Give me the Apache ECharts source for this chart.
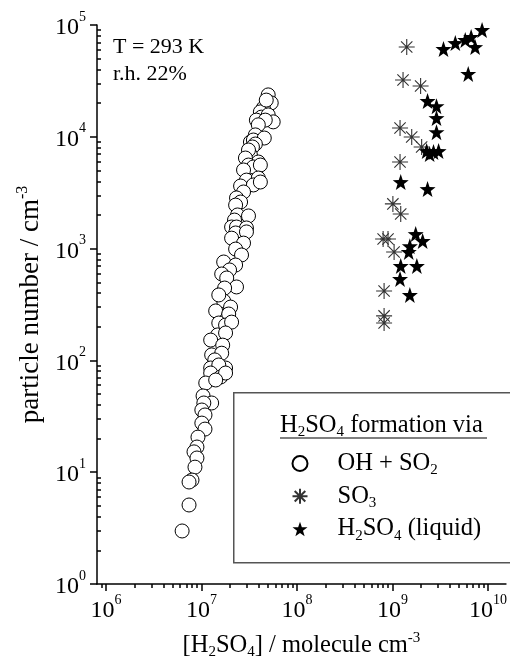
<!DOCTYPE html>
<html>
<head>
<meta charset="utf-8">
<script src="https://cdn.jsdelivr.net/npm/echarts@6/dist/echarts.min.js"></script>
<style>html,body{margin:0;padding:0;background:#fff}#c{width:510px;height:666px}</style>
</head>
<body>
<div id="c"></div>
<script>
// ---- data ----
const ohX = [5.00e7,5.38e7,4.45e7,4.14e7,4.24e7,5.00e7,5.64e7,3.76e7,4.66e7,4.77e7,3.94e7,3.67e7,3.26e7,3.50e7,4.55e7,3.67e7,3.42e7,3.26e7,3.11e7,2.89e7,3.94e7,3.11e7,3.50e7,4.14e7,2.76e7,2.96e7,3.94e7,2.57e7,3.50e7,2.76e7,4.14e7,2.33e7,2.57e7,2.28e7,2.39e7,3.11e7,2.22e7,2.07e7,2.33e7,2.96e7,2.28e7,2.96e7,2.07e7,2.76e7,2.28e7,2.63e7,1.71e7,2.28e7,1.97e7,1.63e7,1.84e7,2.33e7,1.75e7,1.71e7,1.52e7,1.41e7,2.02e7,1.93e7,1.52e7,1.79e7,2.07e7,1.48e7,1.25e7,1.79e7,1.67e7,1.28e7,1.63e7,1.38e7,1.25e7,1.79e7,1.52e7,1.25e7,1.59e7,1.79e7,1.11e7,1.41e7,1.04e7,1.28e7,1.06e7,1.01e7,1.09e7,1.01e7,1.09e7,9.20e6,8.98e6,8.36e6,8.98e6,8.56e6,7.97e6,7.42e6,7.42e6,6.28e6];
const ohY = [2.37e4,2.01e4,1.81e4,1.67e4,1.50e4,1.57e4,1.36e4,1.41e4,1.41e4,2.13e4,1.28e4,1.04e4,8.98e3,9.36e3,9.75e3,8.62e3,8.11e3,6.88e3,7.62e3,6.46e3,5.95e3,5.59e3,5.37e3,5.59e3,5.05e3,4.10e3,4.28e3,3.63e3,3.71e3,3.21e3,3.94e3,2.84e3,2.61e3,2.45e3,2.00e3,1.96e3,1.80e3,1.56e3,1.56e3,1.53e3,1.38e3,1.41e3,1.24e3,1.12e3,991,877,759,713,644,593,546,454,444,340,385,277,300,260,216,207,220,169,152,176,137,112,116,101,85.5,85.5,91,77.1,71.1,77.1,62.8,66.8,48.1,41.6,41.6,36,32.5,27.5,24.3,20.6,16.8,15.2,13.4,11.1,8.51,8.17,5.09,2.98];

const so3X = [1.41e9,1.29e9,1.97e9,1.20e9,1.59e9,2.02e9,1.20e9,1.01e9,1.22e9,7.98e8,8.98e8,1.04e9,8.17e8,8.17e8,8.17e8];
const so3Y = [6.35e4,3.22e4,2.85e4,1.20e4,9.96e3,8.11e3,5.95e3,2.51e3,2.04e3,1.22e3,1.22e3,933,418,250,216];

const liqX = [8.67e9,6.66e9,5.78e9,4.55e9,3.42e9,7.33e9,6.21e9,2.33e9,2.89e9,2.89e9,2.89e9,2.28e9,2.69e9,3.04e9,2.45e9,1.22e9,2.33e9,1.75e9,2.07e9,1.52e9,1.48e9,1.22e9,1.80e9,1.20e9,1.52e9];
const liqY = [9.02e4,7.81e4,7.35e4,6.90e4,6.10e4,6.35e4,3.65e4,2.09e4,1.88e4,1.47e4,1.10e4,7.46e3,7.31e3,7.46e3,7.01e3,3.94e3,3.41e3,1.35e3,1.17e3,1.05e3,933,699,699,535,385];

const xMajorTicks = [1e6, 1e7, 1e8, 1e9, 1e10];
const yMajorTicks = [1, 10, 100, 1e3, 1e4, 1e5];
const minorMultipliers = [2,3,4,5,6,7,8,9];
const seriesNames = ['OH + SO2', 'SO3', 'H2SO4 (liquid)'];

// ---- helpers ----
const FONT = 'Liberation Serif';
const X_MIN = 8.07e5, X_MAX = 1.54e10, Y_MIN = 1, Y_MAX = 1e5;
function minors(decades, lo, hi) {
  const out = [];
  decades.forEach(d => minorMultipliers.forEach(m => { const v = m * d; if (v > lo && v < hi) out.push(v); }));
  return out;
}
const xMinor = minors([1e5, 1e6, 1e7, 1e8, 1e9, 1e10], X_MIN, X_MAX);
const yMinor = minors([1, 10, 100, 1e3, 1e4], Y_MIN, Y_MAX);
const pairs = (xs, ys) => xs.map((x, i) => [x, ys[i]]);
const powLabel = v => '{b|10}{e|' + Math.round(Math.log10(v)) + '}';
const labelRich = {
  b: { fontFamily: FONT, fontSize: 24, color: '#000', lineHeight: 30, verticalAlign: 'bottom' },
  e: { fontFamily: FONT, fontSize: 14, color: '#000', lineHeight: 14, verticalAlign: 'top' }
};
function makeRich(size, sub) {
  return {
    n: { fontFamily: FONT, fontSize: size, color: '#000', lineHeight: size + 4 },
    s: { fontFamily: FONT, fontSize: sub, color: '#000', lineHeight: 13, verticalAlign: 'bottom' },
    p: { fontFamily: FONT, fontSize: sub, color: '#000', lineHeight: 13, verticalAlign: 'top' }
  };
}
const titleRich = makeRich(24.5, 15);
const yTitleRich = makeRich(27, 16);
// star path (5-point)
function starPath() {
  let d = '';
  for (let i = 0; i < 10; i++) {
    const r = i % 2 === 0 ? 10 : 4;
    const a = -Math.PI / 2 + i * Math.PI / 5;
    d += (i === 0 ? 'M' : 'L') + (r * Math.cos(a)).toFixed(3) + ',' + (r * Math.sin(a)).toFixed(3);
  }
  return 'path://' + d + 'Z';
}
const STAR = starPath();
const ASTER = 'path://M0,-10L0,10M-10,0L10,0M-7.07,-7.07L7.07,7.07M-7.07,7.07L7.07,-7.07';

const chart = echarts.init(document.getElementById('c'), null, { renderer: 'canvas' });
const axisCommon = { type: 'log', logBase: 10, splitLine: { show: false }, minorTick: { show: false } };

chart.setOption({
  animation: false,
  backgroundColor: '#fff',
  grid: { left: 97, right: 0, top: 25, bottom: 82, containLabel: false },
  xAxis: [
    Object.assign({}, axisCommon, {
      gridIndex: 0, position: 'bottom', min: X_MIN, max: X_MAX,
      axisLine: { show: true, onZero: false, lineStyle: { color: '#000', width: 1.5 } },
      axisTick: { show: true, inside: false, length: 7, customValues: xMajorTicks, lineStyle: { color: '#000', width: 1.5 } },
      axisLabel: { show: true, margin: 9, customValues: xMajorTicks, formatter: powLabel, rich: labelRich },
      name: '{n|[H}{s|2}{n|SO}{s|4}{n|] / molecule cm}{p|-3}',
      nameLocation: 'middle', nameGap: 47,
      nameTextStyle: { fontFamily: FONT, fontSize: 24.5, color: '#000', rich: titleRich }
    }),
    Object.assign({}, axisCommon, {
      gridIndex: 0, position: 'bottom', min: X_MIN, max: X_MAX,
      axisLine: { show: false, onZero: false },
      axisTick: { show: true, inside: false, length: 4, customValues: xMinor, lineStyle: { color: '#000', width: 1.5 } },
      axisLabel: { show: false }
    })
  ],
  yAxis: [
    Object.assign({}, axisCommon, {
      gridIndex: 0, position: 'left', min: Y_MIN, max: Y_MAX,
      axisLine: { show: true, onZero: false, lineStyle: { color: '#000', width: 1.5 } },
      axisTick: { show: true, inside: false, length: 7, customValues: yMajorTicks, lineStyle: { color: '#000', width: 1.5 } },
      axisLabel: { show: true, margin: 11, customValues: yMajorTicks, formatter: powLabel, rich: labelRich },
      name: '{n|particle number / cm}{p|-3}',
      nameLocation: 'middle', nameGap: 50,
      nameTextStyle: { fontFamily: FONT, fontSize: 27, color: '#000', rich: yTitleRich }
    }),
    Object.assign({}, axisCommon, {
      gridIndex: 0, position: 'left', min: Y_MIN, max: Y_MAX,
      axisLine: { show: false, onZero: false },
      axisTick: { show: true, inside: true, length: 4, customValues: yMinor, lineStyle: { color: '#000', width: 1.5 } },
      axisLabel: { show: false }
    })
  ],
  legend: {
    orient: 'vertical', left: 286.5, top: 446, itemWidth: 15, itemHeight: 15, itemGap: 6,
    selectedMode: false,
    data: seriesNames,
    formatter: function (name) {
      if (name === 'OH + SO2') return '{n|OH + SO}{s|2}';
      if (name === 'SO3') return '{n|SO}{s|3}';
      return '{n|H}{s|2}{n|SO}{s|4}{n| (liquid)}';
    },
    textStyle: { fontFamily: FONT, fontSize: 24.5, color: '#000', padding: [0, 0, 0, 25], rich: titleRich }
  },
  graphic: [
    { type: 'rect', left: 233, top: 392, z: 0, shape: { width: 290, height: 170 },
      style: { fill: '#fff', stroke: '#555', lineWidth: 1.5 } },
    { type: 'text', left: 280, top: 413, z: 10,
      style: { text: '{n|H}{s|2}{n|SO}{s|4}{n| formation via}', rich: titleRich, fill: '#000' } },
    { type: 'line', z: 10, shape: { x1: 280, y1: 438, x2: 487, y2: 438 }, style: { stroke: '#000', lineWidth: 1.2 } },
    { type: 'text', left: 113, top: 36, z: 10,
      style: { text: 'T = 293 K', fontFamily: FONT, fontSize: 22, fill: '#000' } },
    { type: 'text', left: 113, top: 63, z: 10,
      style: { text: 'r.h. 22%', fontFamily: FONT, fontSize: 22, fill: '#000' } }
  ],
  series: [
    { name: seriesNames[0], type: 'scatter', xAxisIndex: 0, yAxisIndex: 0, z: 3,
      symbol: 'circle', symbolSize: 14, data: pairs(ohX, ohY),
      itemStyle: { color: '#fff', borderColor: '#000', borderWidth: 1, opacity: 1 } },
    { name: seriesNames[1], type: 'scatter', xAxisIndex: 0, yAxisIndex: 0, z: 3,
      symbol: ASTER, symbolSize: 16, data: pairs(so3X, so3Y),
      itemStyle: { color: 'rgba(0,0,0,0)', borderColor: '#333', borderWidth: 1.1, opacity: 1 } },
    { name: seriesNames[2], type: 'scatter', xAxisIndex: 0, yAxisIndex: 0, z: 3,
      symbol: STAR, symbolSize: 16, data: pairs(liqX, liqY),
      itemStyle: { color: '#000', borderColor: '#000', borderWidth: 0, opacity: 1 } }
  ]
});
</script>
</body>
</html>
